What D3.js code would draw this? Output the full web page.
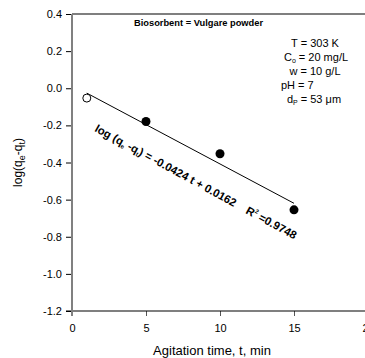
<!DOCTYPE html>
<html><head><meta charset="utf-8">
<script src="https://cdn.jsdelivr.net/npm/d3@7"></script>
<style>body{margin:0;background:#fff}svg{display:block;font-family:"Liberation Sans",Arial,sans-serif}</style>
</head><body><svg id="c" width="365" height="358"></svg>
<script>
const openT = [1];
const openY = [-0.053];
const filledT = [5, 10, 15];
const filledY = [-0.179, -0.353, -0.655];
const slope = -0.0424, intercept = 0.0162;
const fitRange = [1, 15];
const xTicks = [0, 5, 10, 15, 20];
const yTicks = [0.4, 0.2, 0.0, -0.2, -0.4, -0.6, -0.8, -1.0, -1.2];

const svg = d3.select("#c");
const x = d3.scaleLinear().domain([0, 20]).range([72, 368]);
const y = d3.scaleLinear().domain([-1.2, 0.4]).range([311, 14]);

// top frame
svg.append("line").attr("x1", 72).attr("x2", 365).attr("y1", y(0.4)).attr("y2", y(0.4)).attr("stroke", "#000").attr("stroke-width", 1.2);

// x axis
const xa = svg.append("g").attr("transform", `translate(0,${y(-1.2)})`)
  .call(d3.axisBottom(x).tickValues(xTicks).tickFormat(d3.format("d")).tickSize(5).tickSizeOuter(0).tickPadding(8));
xa.select(".domain").remove();
xa.append("line").attr("x1", 66).attr("x2", 365).attr("stroke", "#000").attr("stroke-width", 1.2);
xa.selectAll("text").attr("font-size", 11).attr("fill", "#000").attr("font-family", "Liberation Sans, Arial");
xa.selectAll(".tick line").attr("stroke", "#555");

// y axis
const ya = svg.append("g").attr("transform", `translate(${x(0)},0)`)
  .call(d3.axisLeft(y).tickValues(yTicks).tickFormat(d3.format(".1f")).tickSize(6).tickSizeOuter(0).tickPadding(4));
ya.select(".domain").remove();
ya.selectAll("text").attr("font-size", 11).attr("fill", "#000").attr("font-family", "Liberation Sans, Arial")
  .text(d => d3.format(".1f")(d).replace("−", "-"));
svg.append("line").attr("x1", x(0)).attr("x2", x(0)).attr("y1", y(0.4)).attr("y2", y(-1.2) + 5).attr("stroke", "#808080").attr("stroke-width", 2);

// axis labels
svg.append("text").attr("x", 212).attr("y", 355).attr("text-anchor", "middle").attr("font-size", 13).text("Agitation time, t, min");
const yl = svg.append("text").attr("transform", `translate(22,${(y(0.4) + y(-1.2)) / 2}) rotate(-90)`).attr("text-anchor", "middle").attr("font-size", 12);
yl.append("tspan").text("log(q");
yl.append("tspan").attr("font-size", 9).attr("dy", 3).text("e");
yl.append("tspan").attr("dy", -3).text("-q");
yl.append("tspan").attr("font-size", 9).attr("dy", 3).text("t");
yl.append("tspan").attr("dy", -3).text(")");

// fit line
svg.append("line")
  .attr("x1", x(fitRange[0])).attr("y1", y(slope * fitRange[0] + intercept))
  .attr("x2", x(fitRange[1])).attr("y2", y(slope * fitRange[1] + intercept))
  .attr("stroke", "#000").attr("stroke-width", 1);

// points
svg.selectAll(".op").data(openT).enter().append("circle")
  .attr("cx", d => x(d)).attr("cy", (d, i) => y(openY[i])).attr("r", 4)
  .attr("fill", "#fff").attr("stroke", "#000").attr("stroke-width", 1);
svg.selectAll(".fp").data(filledT).enter().append("circle")
  .attr("cx", d => x(d)).attr("cy", (d, i) => y(filledY[i])).attr("r", 4.5).attr("fill", "#000");

// title
svg.append("text").attr("x", 134).attr("y", 26).attr("font-size", 9.3).attr("font-weight", "bold").text("Biosorbent = Vulgare powder");

// parameters
const pg = svg.append("g").attr("font-size", 11);
pg.append("text").attr("x", 315).attr("y", 47).attr("text-anchor", "middle").text("T = 303 K");
const c0 = pg.append("text").attr("x", 316).attr("y", 61).attr("text-anchor", "middle");
c0.append("tspan").text("C");
c0.append("tspan").attr("font-size", 7).attr("dy", 2).text("o");
c0.append("tspan").attr("dy", -2).text(" = 20 mg/L");
pg.append("text").attr("x", 315).attr("y", 75).attr("text-anchor", "middle").text("w = 10 g/L");
pg.append("text").attr("x", 281).attr("y", 89).text("pH = 7");
const dp = pg.append("text").attr("x", 314).attr("y", 103).attr("text-anchor", "middle");
dp.append("tspan").text("d");
dp.append("tspan").attr("font-size", 7).attr("dy", 2).text("P");
dp.append("tspan").attr("dy", -2).text(" = 53 \u03bcm");

// equation annotation
const eq = svg.append("text").attr("transform", "translate(94,131) rotate(28.5)").attr("font-size", 11.3).attr("font-weight", "bold").style("white-space", "pre");
eq.append("tspan").text("log (q");
eq.append("tspan").attr("font-size", 6).attr("dy", 2).text("e");
eq.append("tspan").attr("dy", -2).text(" -q");
eq.append("tspan").attr("font-size", 6).attr("dy", 2).text("t");
eq.append("tspan").attr("dy", -2).text(") = -0.0424 t + 0.0162    R");
eq.append("tspan").attr("font-size", 6).attr("dy", -5).text("2");
eq.append("tspan").attr("dy", 5).text(" =0.9748");
</script></body></html>
